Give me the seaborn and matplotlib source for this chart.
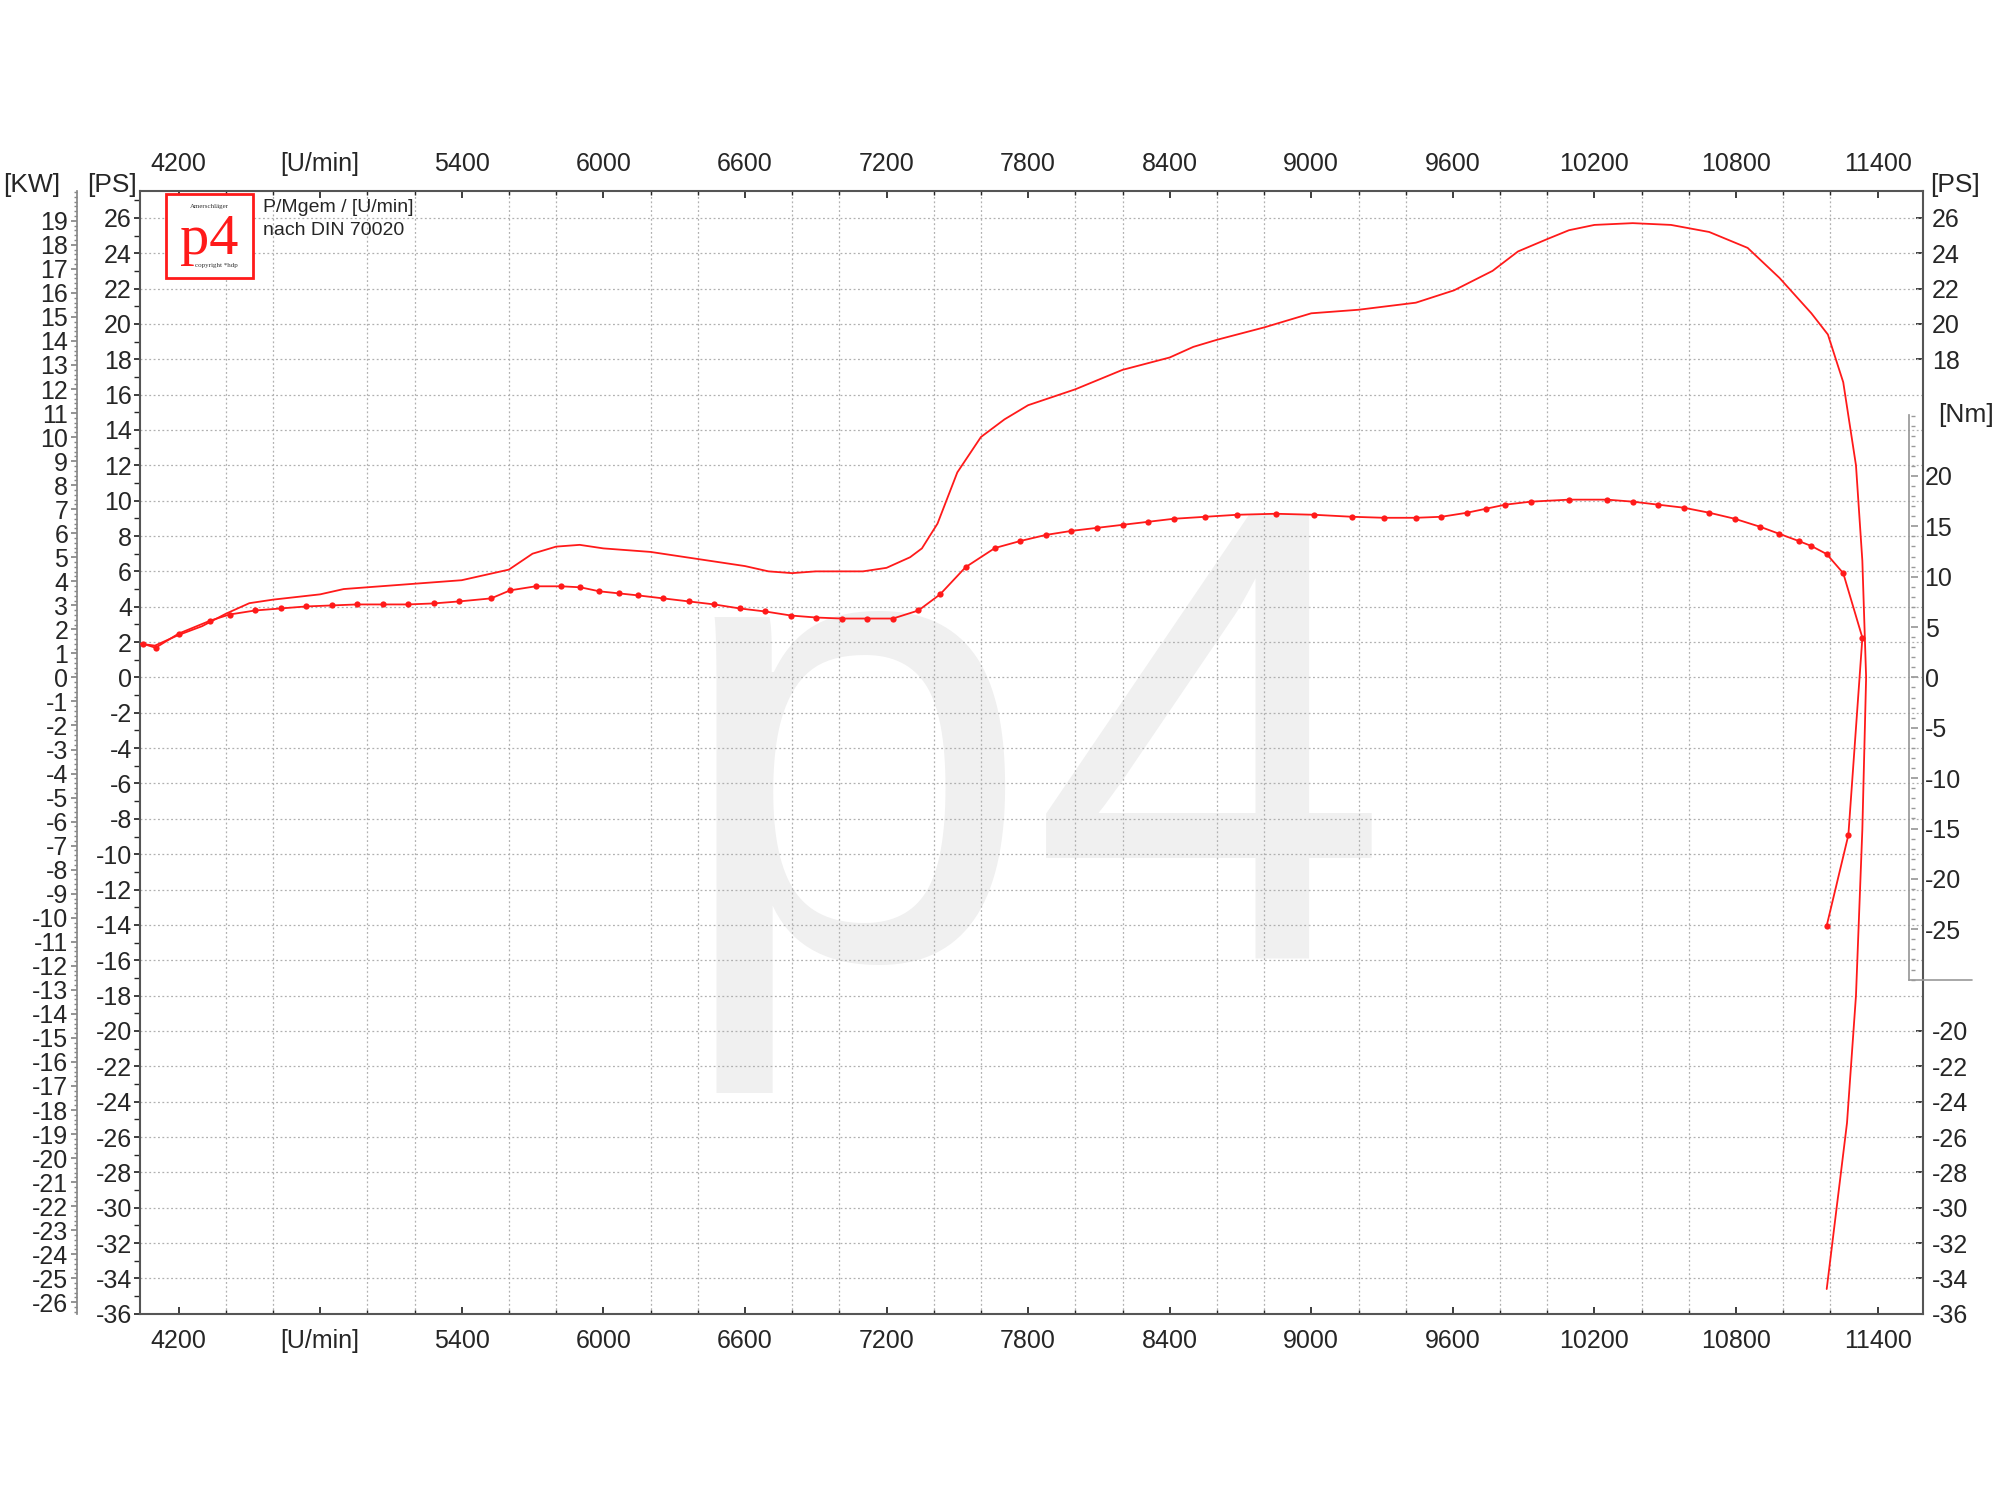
import matplotlib
matplotlib.use("Agg")
import matplotlib.pyplot as plt
import seaborn as sns
import pandas as pd
import numpy as np
from matplotlib.ticker import MultipleLocator
from matplotlib.patches import Rectangle
from matplotlib.lines import Line2D

# ---------------- data ----------------
power_rpm = [4040, 4100, 4200, 4300, 4400, 4500, 4600, 4800, 4900, 5000, 5200, 5400, 5500, 5600,
             5700, 5800, 5900, 6000, 6200, 6400, 6600, 6700, 6800, 6900, 7100, 7200, 7300, 7350,
             7416, 7500, 7600, 7700, 7800, 8000, 8200, 8400, 8500, 8600, 8800, 9000, 9200, 9443,
             9605, 9768, 9876, 10000, 10092, 10200, 10362, 10524, 10686, 10849, 10984, 11119,
             11189, 11254, 11308, 11335, 11351, 11335, 11308, 11270, 11184]
power_ps = [1.9, 1.8, 2.4, 2.9, 3.6, 4.2, 4.4, 4.7, 5.0, 5.1, 5.3, 5.5, 5.8, 6.1,
            7.0, 7.4, 7.5, 7.3, 7.1, 6.7, 6.3, 6.0, 5.9, 6.0, 6.0, 6.2, 6.8, 7.3,
            8.7, 11.6, 13.6, 14.6, 15.4, 16.3, 17.4, 18.1, 18.7, 19.1, 19.8, 20.6, 20.8, 21.2,
            21.9, 23.0, 24.1, 24.8, 25.3, 25.6, 25.7, 25.6, 25.2, 24.3, 22.6, 20.6,
            19.4, 16.7, 12.0, 6.6, 0.0, -8.6, -18.0, -25.2, -34.6]

torque_x_px = [112, 122, 140, 165, 180, 200, 220, 240, 260, 280, 300, 320, 340, 360, 385, 400,
               420, 440, 455, 470, 485, 500, 520, 540, 560, 580, 600, 620, 640, 660, 680, 700,
               720, 737, 757, 780, 800, 820, 840, 860, 880, 900, 920, 945, 970, 1000, 1030,
               1060, 1085, 1110, 1130, 1150, 1165, 1180, 1200, 1230, 1260, 1280, 1300, 1320,
               1340, 1360, 1380, 1395, 1410, 1420, 1432, 1445, 1460, 1449, 1432]
torque_rpm = [4200 + (x - 140) / 0.185 for x in torque_x_px]
torque_nm = [3.3, 2.9, 4.3, 5.6, 6.2, 6.6, 6.8, 7.0, 7.1, 7.2, 7.2, 7.2, 7.3, 7.5, 7.8, 8.6,
             9.0, 9.0, 8.9, 8.5, 8.3, 8.1, 7.8, 7.5, 7.2, 6.8, 6.5, 6.1, 5.9, 5.8, 5.8, 5.8,
             6.6, 8.2, 10.9, 12.8, 13.5, 14.1, 14.5, 14.8, 15.1, 15.4, 15.7, 15.9, 16.1, 16.2, 16.1,
             15.9, 15.8, 15.8, 15.9, 16.3, 16.7, 17.1, 17.4, 17.6, 17.6, 17.4, 17.1, 16.8,
             16.3, 15.7, 14.9, 14.2, 13.5, 13.0, 12.2, 10.3, 3.9, -15.7, -24.7]

x_ticks = [4200, 4800, 5400, 6000, 6600, 7200, 7800, 8400, 9000, 9600, 10200, 10800, 11400]
x_labels = ["4200", "[U/min]", "5400", "6000", "6600", "7200", "7800", "8400", "9000",
            "9600", "10200", "10800", "11400"]
ps_ticks_left = list(range(-36, 27, 2))
kw_ticks = list(range(-26, 20))
ps_ticks_right = [26, 24, 22, 20, 18, -20, -22, -24, -26, -28, -30, -32, -34, -36]
nm_ticks = [-25, -20, -15, -10, -5, 0, 5, 10, 15, 20]

# ---------------- figure ----------------
sns.set_theme(style="white")
plt.rcParams['font.family'] = ['Liberation Sans', 'DejaVu Sans']
W, H = 1568, 1176
fig = plt.figure(figsize=(20, 15), dpi=100)
fig.patch.set_facecolor("white")
L, R, T, B = 110, 1508, 150, 1030
ax = fig.add_axes([L / W, 1 - B / H, (R - L) / W, (B - T) / H])
ax.set_xlim(4038, 11594)
ax.set_ylim(-36, 27.5)

red = "#ff1a1a"
fs = 18

ax.text(0.50, 0.465, "p4", transform=ax.transAxes, fontsize=465, color="#f0f0f0",
        ha="center", va="center", zorder=0)

dfp = pd.DataFrame({"rpm": power_rpm, "ps": power_ps})
sns.lineplot(data=dfp, x="rpm", y="ps", sort=False, estimator=None, color=red, lw=1.3,
             ax=ax, zorder=3)

axt = ax.twinx()
axt.set_ylim(-63.2, 48.2)
dft = pd.DataFrame({"rpm": torque_rpm, "nm": torque_nm})
sns.lineplot(data=dft, x="rpm", y="nm", sort=False, estimator=None, color=red, lw=1.3,
             marker="o", markersize=4.5, markeredgewidth=0, ax=axt, zorder=3)
axt.set_yticks([]); axt.set_ylabel(""); axt.set_xlabel("")
for s in axt.spines.values():
    s.set_visible(False)

ax.set_xlabel(""); ax.set_ylabel("")
ax.xaxis.set_minor_locator(MultipleLocator(200))
ax.yaxis.set_minor_locator(MultipleLocator(1))
ax.grid(which="minor", axis="x", color="#b0b0b0", ls=(0, (1.5, 2)), lw=0.9)
ax.grid(which="major", axis="y", color="#b0b0b0", ls=(0, (1.5, 2)), lw=0.9)
ax.set_xticks(x_ticks)
ax.set_xticklabels(x_labels, fontsize=fs)
ax.tick_params(axis="x", which="both", top=True, labeltop=True, bottom=True, labelbottom=True,
               direction="in", length=5, pad=11)
ax.tick_params(axis="x", which="minor", length=3)
ax.set_yticks(ps_ticks_left)
ax.set_yticklabels([str(t) for t in ps_ticks_left], fontsize=fs)
ax.tick_params(axis="y", which="both", left=True, direction="out", length=4, pad=2)
for s in ax.spines.values():
    s.set_color("#555555"); s.set_linewidth(1.5)

# KW axis
kw = ax.secondary_yaxis(-50 / (R - L), functions=(lambda p: p * 0.7355, lambda k: k / 0.7355))
kw.set_yticks(kw_ticks)
kw.set_yticklabels([str(t) for t in kw_ticks], fontsize=fs)
kw.yaxis.set_minor_locator(MultipleLocator(0.2))
kw.tick_params(axis="y", which="both", direction="out", length=4, pad=2, color="#888888")
kw.tick_params(axis="y", which="minor", length=2)
kw.spines["left"].set_color("#888888")

# right PS
rps = ax.secondary_yaxis("right")
rps.set_yticks(ps_ticks_right)
rps.set_yticklabels([str(t) for t in ps_ticks_right], fontsize=fs)
rps.tick_params(axis="y", direction="in", length=5, pad=6)

# Nm inset axis
NT, NB, NX = 325, 768, 1497
axn = fig.add_axes([NX / W, 1 - NB / H, 1 / W, (NB - NT) / H])
axn.set_ylim(-30.0, 26.1)
axn.patch.set_alpha(0)
axn.set_xticks([])
axn.set_yticks(nm_ticks)
axn.yaxis.set_minor_locator(MultipleLocator(1))
axn.set_yticklabels([str(t) for t in nm_ticks], fontsize=fs)
axn.tick_params(axis="y", which="both", left=False, right=True, labelleft=False,
                labelright=True, direction="out", length=5, pad=5, color="#999999")
axn.tick_params(axis="y", which="minor", length=3)
for k in ["top", "right", "bottom"]:
    axn.spines[k].set_visible(False)
axn.spines["left"].set_color("#999999")
fig.lines.append(Line2D([NX / W, 1546 / W], [1 - NB / H, 1 - NB / H], transform=fig.transFigure,
                        color="#999999", lw=1.2))

# headers
fig.text(25 / W, 1 - 145 / H, "[KW]", fontsize=fs + 1, ha="center", va="center")
fig.text(88 / W, 1 - 145 / H, "[PS]", fontsize=fs + 1, ha="center", va="center")
fig.text(1533 / W, 1 - 145 / H, "[PS]", fontsize=fs + 1, ha="center", va="center")
fig.text(1541 / W, 1 - 325 / H, "[Nm]", fontsize=fs + 1, ha="center", va="center")

fig.text(206 / W, 1 - 163 / H, "P/Mgem / [U/min]", fontsize=14, va="center")
fig.text(206 / W, 1 - 181 / H, "nach DIN 70020", fontsize=14, va="center")

# logo
fig.patches.append(Rectangle((130 / W, 1 - 218 / H), 68 / W, 66 / H, transform=fig.transFigure,
                             fill=True, facecolor="white", edgecolor=red, lw=2, zorder=5))
fig.text(164 / W, 1 - 188 / H, "p4", fontsize=42, color=red, family="Liberation Serif",
         ha="center", va="center", zorder=6)
fig.text(164 / W, 1 - 162 / H, "Amerschläger", fontsize=5, color="#333333",
         family="Liberation Serif", ha="center", va="center", zorder=6)
fig.text(170 / W, 1 - 208 / H, "copyright *hdp", fontsize=5, color="#333333",
         family="Liberation Serif", ha="center", va="center", zorder=6)

fig.savefig("out.png", dpi=100, facecolor="white")
